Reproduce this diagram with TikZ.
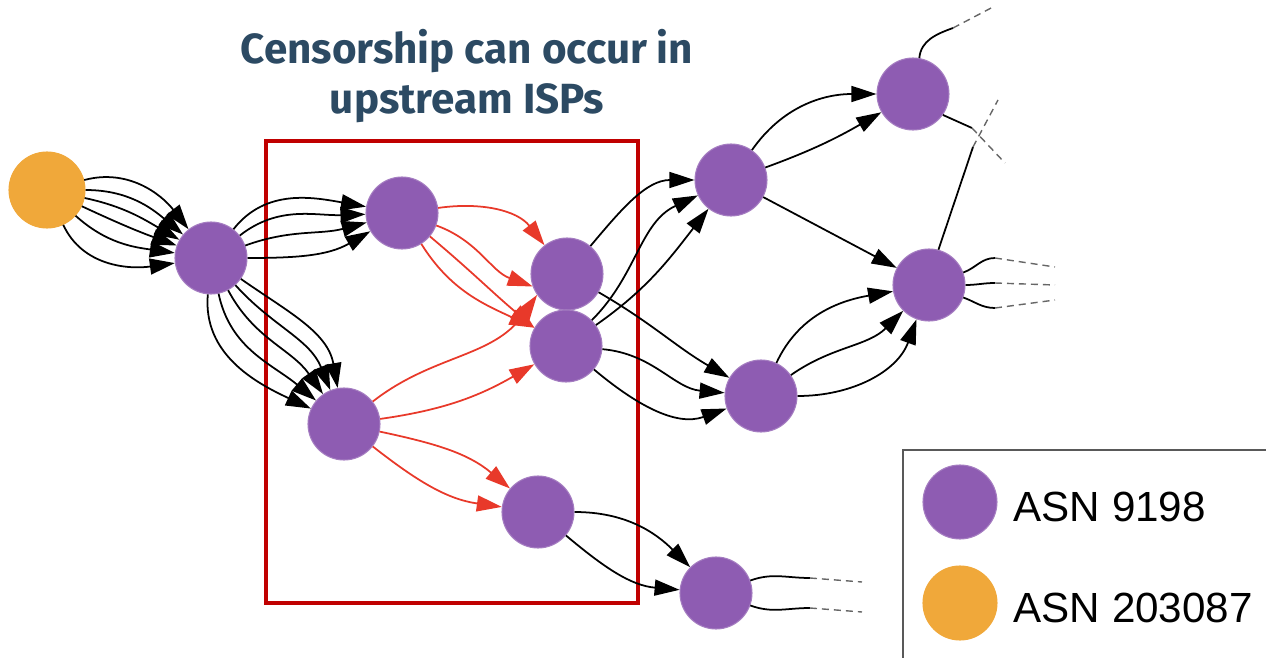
\documentclass[tikz,border=0pt]{standalone}
\usepackage{fontspec}
\setmainfont{Liberation Sans}
\newfontfamily\headfont{Fira Sans}
\usetikzlibrary{arrows.meta}
\definecolor{asnpurple}{RGB}{142,92,178}
\definecolor{asnorange}{RGB}{240,168,58}
\definecolor{cutred}{RGB}{232,57,42}
\definecolor{boxred}{RGB}{192,0,0}
\definecolor{headblue}{RGB}{44,74,99}
\tikzset{
    asnode/.style={circle,fill=asnpurple,draw=asnpurple!80!white,line width=0.3pt,minimum size=0.72cm,inner sep=0pt},
    srcnode/.style={asnode,fill=asnorange,draw=asnorange,minimum size=0.76cm},
    hop/.style={line width=0.5pt,-{Triangle[length=0.25cm,width=0.16cm]}},
    stub/.style={line width=0.5pt},
    loose/.style={line width=0.4pt,gray!80!black,dash pattern=on 0.07cm off 0.05cm},
}
% several parallel routes between two ASes
\newcommand\Routes[4]{%
    \foreach \o/\i in {#4}
        \draw[hop,#3] (#1) to[out=\o,in=\i] (#2);
}

\begin{document}
\begin{tikzpicture}
    \useasboundingbox (0,0) rectangle (12.66,-6.58);
    \node[text=headblue,align=center,font=\headfont\bfseries\fontsize{12}{14.2}\selectfont] (Head) at (4.67,-0.76) {Censorship can occur in\\upstream ISPs};
    \draw[boxred,line width=1.4pt] (2.66,-1.41) rectangle (6.38,-6.03);
    % ASes
    \node[srcnode] (Src) at (0.47,-1.90) {};
    \node[asnode] (Hub) at (2.11,-2.58) {};
    \node[asnode] (B) at (4.02,-2.13) {};
    \node[asnode] (C) at (3.44,-4.24) {};
    \node[asnode] (D) at (5.67,-2.74) {};
    \node[asnode] (E) at (5.66,-3.46) {};
    \node[asnode] (F) at (5.38,-5.12) {};
    \node[asnode] (G) at (7.31,-1.80) {};
    \node[asnode] (H) at (9.13,-0.94) {};
    \node[asnode] (I) at (9.29,-2.85) {};
    \node[asnode] (J) at (7.61,-3.96) {};
    \node[asnode] (K) at (7.16,-5.93) {};
    % routes
    \Routes{Src}{Hub}{}{15/128, 0/140, -12/150, -25/160, -42/172, -65/188}
    \Routes{Hub}{B}{}{52/170, 38/182, 20/195, 0/210}
    \Routes{Hub}{C}{}{-35/100, -48/112, -62/125, -78/140, -95/155}
    \begin{scope}[color=cutred] % upstream ISPs
        \Routes{B}{D}{}{8/128}
        \Routes{B}{D.200}{}{-20/160}
        \Routes{B}{E.150}{}{-40/140, -58/155}
        \Routes{C}{D.215}{}{38/-125}
        \Routes{C}{E.210}{}{8/-150}
        \Routes{C}{F}{}{-12/140, -38/172}
    \end{scope}
    \Routes{D}{G}{}{50/180}
    \Routes{E}{G}{}{45/205, 35/232}
    \Routes{D}{J}{}{-30/150}
    \Routes{E}{J}{}{-5/175, -40/200}
    \Routes{G}{H}{}{55/180, 20/210}
    \draw[hop] (G) -- (I);
    \Routes{J}{I}{}{65/190, 35/225, 0/250}
    \Routes{F}{K}{}{0/135, -40/175}
    % cut-off routes
    \coordinate (HTop) at (9.53,-0.28);
    \coordinate (HOut) at (9.72,-1.28);
    \coordinate (ITop) at (9.73,-1.47);
    \draw[stub] (H.80) to[out=85,in=200] (HTop);
    \draw[loose] (HTop) -- (9.93,-0.07);
    \draw[stub] (H.-35) -- (HOut);
    \draw[loose] (HOut) -- (10.05,-1.63);
    \draw[stub] (I.75) -- (ITop);
    \draw[loose] (ITop) -- (9.98,-1.00);
    \foreach \a/\y/\z [count=\n] in {20/-2.58/-2.67, 0/-2.83/-2.85, -20/-3.08/-3.00} {
        \coordinate (IOut\n) at (9.95,\y);
        \draw[stub] (I.\a) to[out=\a,in=180] (IOut\n);
        \draw[loose] (IOut\n) -- (10.55,\z);
    }
    \foreach \a/\y/\z [count=\n] in {20/-5.78/-5.82, -20/-6.08/-6.12} {
        \coordinate (KOut\n) at (8.10,\y);
        \draw[stub] (K.\a) to[out=\a,in=180] (KOut\n);
        \draw[loose] (KOut\n) -- (8.62,\z);
    }
    % legend
    \draw[gray!70!black,line width=0.6pt] (9.03,-4.50) rectangle (12.90,-6.90);
    \node[asnode,minimum size=0.74cm] (KeyNine) at (9.60,-5.02) {};
    \node[srcnode,minimum size=0.74cm] (KeyTwo) at (9.60,-6.03) {};
    \node[anchor=base west,inner sep=0pt,font=\fontsize{12}{14}\selectfont] (KeyNineText) at (10.13,-5.22) {ASN 9198};
    \node[anchor=base west,inner sep=0pt,font=\fontsize{12}{14}\selectfont] (KeyTwoText) at (10.13,-6.22) {ASN 203087};
\end{tikzpicture}
\end{document}
